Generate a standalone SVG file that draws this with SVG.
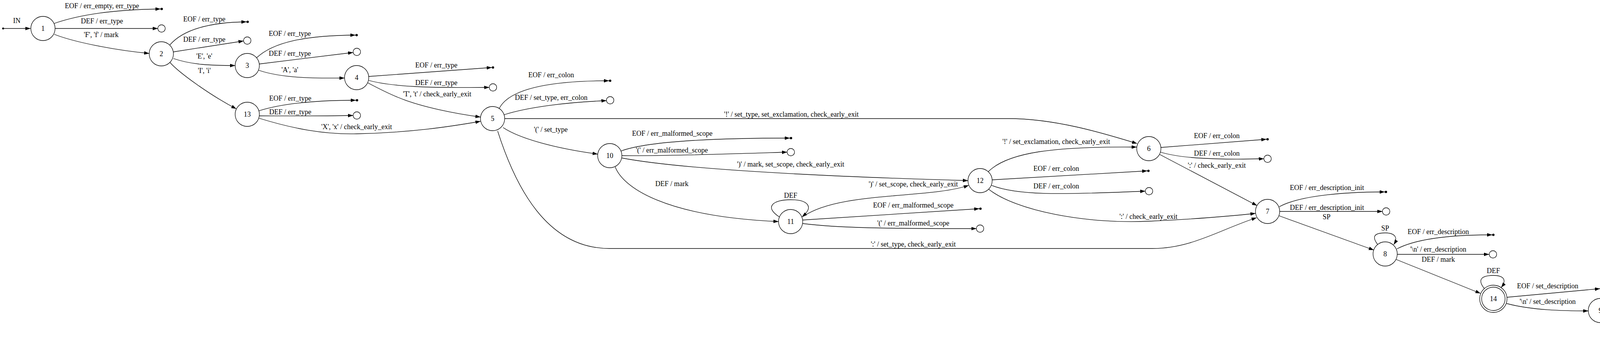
<svg xmlns="http://www.w3.org/2000/svg" width="4597" height="910" viewBox="0 0 4597 910">
<style>
text{font-family:"Liberation Serif","Times New Roman",serif;font-size:18px;text-anchor:middle;fill:#000}
.st{fill:none;stroke:#000;stroke-width:1.3}
.e path{fill:none;stroke:#000;stroke-width:1.3;marker-end:url(#a)}
.pt{fill:#000;stroke:none}
.sc{fill:#fff;stroke:#000;stroke-width:1.3}
</style>
<defs>
<marker id="a" markerWidth="13" markerHeight="9" refX="13" refY="4.5" orient="auto" markerUnits="userSpaceOnUse"><path d="M0,0 L13,4.5 L0,9 z" fill="#000"/></marker>
</defs>
<rect width="4597" height="910" fill="#fff"/>
<g id="nodes">
<g id="start"><circle class="pt" cx="8" cy="73" r="2.5"/></g>
<g id="n1"><circle class="st" cx="110" cy="73" r="31"/><text x="110" y="79">1</text></g>
<g id="n2"><circle class="st" cx="413" cy="138" r="31"/><text x="413" y="144">2</text></g>
<g id="n3"><circle class="st" cx="633" cy="168" r="31"/><text x="633" y="174">3</text></g>
<g id="n4"><circle class="st" cx="913" cy="199" r="31"/><text x="913" y="205">4</text></g>
<g id="n13"><circle class="st" cx="633" cy="293" r="31"/><text x="633" y="299">13</text></g>
<g id="n5"><circle class="st" cx="1261" cy="304" r="31"/><text x="1261" y="310">5</text></g>
<g id="n10"><circle class="st" cx="1561" cy="399" r="31"/><text x="1561" y="405">10</text></g>
<g id="n11"><circle class="st" cx="2024" cy="568" r="31"/><text x="2024" y="574">11</text></g>
<g id="n12"><circle class="st" cx="2509" cy="463" r="31"/><text x="2509" y="469">12</text></g>
<g id="n6"><circle class="st" cx="2941" cy="381" r="31"/><text x="2941" y="387">6</text></g>
<g id="n7"><circle class="st" cx="3245" cy="542" r="31"/><text x="3245" y="548">7</text></g>
<g id="n8"><circle class="st" cx="3546" cy="651" r="31"/><text x="3546" y="657">8</text></g>
<g id="n14"><circle class="st" cx="3823" cy="766" r="30"/><circle class="st" cx="3823" cy="766" r="35"/><text x="3823" y="772">14</text></g>
<g id="n9"><circle class="st" cx="4097" cy="796" r="31"/><text x="4097" y="802">9</text></g>
<g id="n15"><circle class="st" cx="4554" cy="867" r="30"/><circle class="st" cx="4554" cy="867" r="35"/><text x="4554" y="873">15</text></g>
<g id="sinks">
<circle class="pt" cx="414" cy="23" r="3"/>
<circle class="pt" cx="634" cy="56" r="3"/>
<circle class="pt" cx="913" cy="90" r="3"/>
<circle class="pt" cx="1262" cy="173" r="3"/>
<circle class="pt" cx="914" cy="257" r="3"/>
<circle class="pt" cx="1562" cy="207" r="3"/>
<circle class="pt" cx="2025" cy="354" r="3"/>
<circle class="pt" cx="2510" cy="535" r="3"/>
<circle class="pt" cx="2940" cy="438" r="3"/>
<circle class="pt" cx="3245" cy="357" r="3"/>
<circle class="pt" cx="3548" cy="492" r="3"/>
<circle class="pt" cx="3823" cy="602" r="3"/>
<circle class="pt" cx="4099" cy="740" r="3"/>
<circle class="pt" cx="4555" cy="747" r="3"/>
<circle class="sc" cx="413.5" cy="73" r="9.5"/>
<circle class="sc" cx="633" cy="104" r="9.5"/>
<circle class="sc" cx="913.5" cy="133" r="9.5"/>
<circle class="sc" cx="1262" cy="224" r="9.5"/>
<circle class="sc" cx="913.5" cy="296" r="9.5"/>
<circle class="sc" cx="1562" cy="257" r="9.5"/>
<circle class="sc" cx="2024.5" cy="390" r="9.5"/>
<circle class="sc" cx="2509" cy="586" r="9.5"/>
<circle class="sc" cx="2941.5" cy="490" r="9.5"/>
<circle class="sc" cx="3245" cy="407" r="9.5"/>
<circle class="sc" cx="3548.5" cy="542" r="9.5"/>
<circle class="sc" cx="3822" cy="652" r="9.5"/>
<circle class="sc" cx="4554" cy="797" r="9.5"/>
</g>
</g>
<g id="connectors" class="e">
<path d="M10,73 L78,73"/><text x="43" y="59">IN</text>
<path d="M139,60 C220,32 320,24 411,23"/><text x="261" y="21">EOF / err_empty, err_type</text>
<path d="M141,73 L404,73"/><text x="261" y="60">DEF / err_type</text>
<path d="M139,88 C190,108 290,128 382,137"/><text x="259" y="95">'F', 'f' / mark</text>
<path d="M435,115 C470,75 540,57 631,56"/><text x="523" y="55">EOF / err_type</text>
<path d="M444,133 L623.5,105"/><text x="523" y="107">DEF / err_type</text>
<path d="M444,150 C490,166 540,168 602,168"/><text x="523" y="150">'E', 'e'</text>
<path d="M435,160 C460,188 540,245 605,279"/><text x="523" y="187">'I', 'i'</text>
<path d="M657,148 C700,108 780,91 910,90"/><text x="742" y="92">EOF / err_type</text>
<path d="M664,164 L904,134.5"/><text x="742" y="143">DEF / err_type</text>
<path d="M662,180 C720,200 800,201 882,200"/><text x="742" y="185">'A', 'a'</text>
<path d="M944,196 L1259,173"/><text x="1117" y="173">EOF / err_type</text>
<path d="M944,206 C1000,222 1100,226 1252.5,224"/><text x="1117" y="218">DEF / err_type</text>
<path d="M941,212 C975,230 1000,242 1020,250 C1080,275 1170,292 1230,300"/><text x="1119" y="247">'T', 't' / check_early_exit</text>
<path d="M663,284 C720,266 800,257 911,257"/><text x="743" y="258">EOF / err_type</text>
<path d="M664,297 C720,297 800,298 904,296"/><text x="743" y="293">DEF / err_type</text>
<path d="M663,303 C750,330 830,345 913,343 C1050,340 1150,325 1230,311"/><text x="913" y="331">'X', 'x' / check_early_exit</text>
<path d="M1278,278 C1300,235 1380,207 1559,207"/><text x="1411" y="198">EOF / err_colon</text>
<path d="M1291,294 C1350,275 1450,262 1552.5,258"/><text x="1411" y="256">DEF / set_type, err_colon</text>
<path d="M1292,304 L2581,304 C2700,304 2820,340 2911,368"/><text x="2026" y="299">'!' / set_type, set_exclamation, check_early_exit</text>
<path d="M1288,327 C1330,355 1420,380 1530,395"/><text x="1410" y="338">'(' / set_type</text>
<path d="M1274,336 C1320,480 1400,637 1560,637 L2950,637 C3050,637 3120,590 3217,558"/><text x="2338" y="632">':' / set_type, check_early_exit</text>
<path d="M1590,387 C1650,365 1800,354 2022,354"/><text x="1721" y="348">EOF / err_malformed_scope</text>
<path d="M1592,399 C1700,400 1850,395 2015,390"/><text x="1720" y="391">'(' / err_malformed_scope</text>
<path d="M1592,405 C1750,435 2100,452 2478,463"/><text x="2024" y="427">')' / mark, set_scope, check_early_exit</text>
<path d="M1575,428 C1595,480 1700,555 1993,568"/><text x="1720" y="477">DEF / mark</text>
<path d="M1995,556 C1955,530 1980,512 2024,512 C2068,512 2085,530 2053,556"/><text x="2024" y="507">DEF</text>
<path d="M2055,564 L2507,535"/><text x="2338" y="532">EOF / err_malformed_scope</text>
<path d="M2055,573 C2150,585 2280,586 2499.5,586"/><text x="2338" y="578">'(' / err_malformed_scope</text>
<path d="M2056,555 C2150,490 2380,510 2480,475"/><text x="2338" y="478">')' / set_scope, check_early_exit</text>
<path d="M2530,440 C2580,390 2700,375 2910,377"/><text x="2704" y="369">'!' / set_exclamation, check_early_exit</text>
<path d="M2540,461 L2937,438"/><text x="2704" y="438">EOF / err_colon</text>
<path d="M2538,475 C2600,500 2700,500 2932,490"/><text x="2704" y="483">DEF / err_colon</text>
<path d="M2531,485 C2600,540 2780,575 2943,567 C3070,561 3160,553 3214,547"/><text x="2940" y="561">':' / check_early_exit</text>
<path d="M2972,378 L3242,357"/><text x="3115" y="354">EOF / err_colon</text>
<path d="M2971,390 C3020,405 3100,410 3235.5,407"/><text x="3115" y="399">DEF / err_colon</text>
<path d="M2969,396 L3218,527"/><text x="3115" y="430">':' / check_early_exit</text>
<path d="M3275,530 C3320,505 3420,492 3545,492"/><text x="3397" y="487">EOF / err_description_init</text>
<path d="M3276,542 L3539,542"/><text x="3397" y="538">DEF / err_description_init</text>
<path d="M3274,553 L3517,641"/><text x="3396" y="562">SP</text>
<path d="M3527,627 C3510,605 3520,597 3546,597 C3570,597 3580,608 3568,627"/><text x="3546" y="591">SP</text>
<path d="M3576,638 C3620,615 3700,602 3820,602"/><text x="3682" y="600">EOF / err_description</text>
<path d="M3577,652 L3812,652"/><text x="3682" y="645">'\n' / err_description</text>
<path d="M3574,665 L3790,752"/><text x="3682" y="671">DEF / mark</text>
<path d="M3800,740 C3780,715 3795,706 3823,706 C3850,706 3858,718 3843,737"/><text x="3823" y="700">DEF</text>
<path d="M3858,762 L4096,740"/><text x="3962" y="739">EOF / set_description</text>
<path d="M3857,778 C3920,795 4000,797 4066,797"/><text x="3962" y="779">'\n' / set_description</text>
<path d="M4126,785 C4200,755 4350,747 4552,747"/><text x="4322" y="740">EOF / err_begin_blank_line</text>
<path d="M4128,797 L4544.5,797"/><text x="4322" y="792">DEF / err_begin_blank_line</text>
<path d="M4124,810 C4250,850 4400,866 4519,867"/><text x="4323" y="818">'\n' / set_body_blank_line, start_trailer_parsing</text>
</g>
</svg>
